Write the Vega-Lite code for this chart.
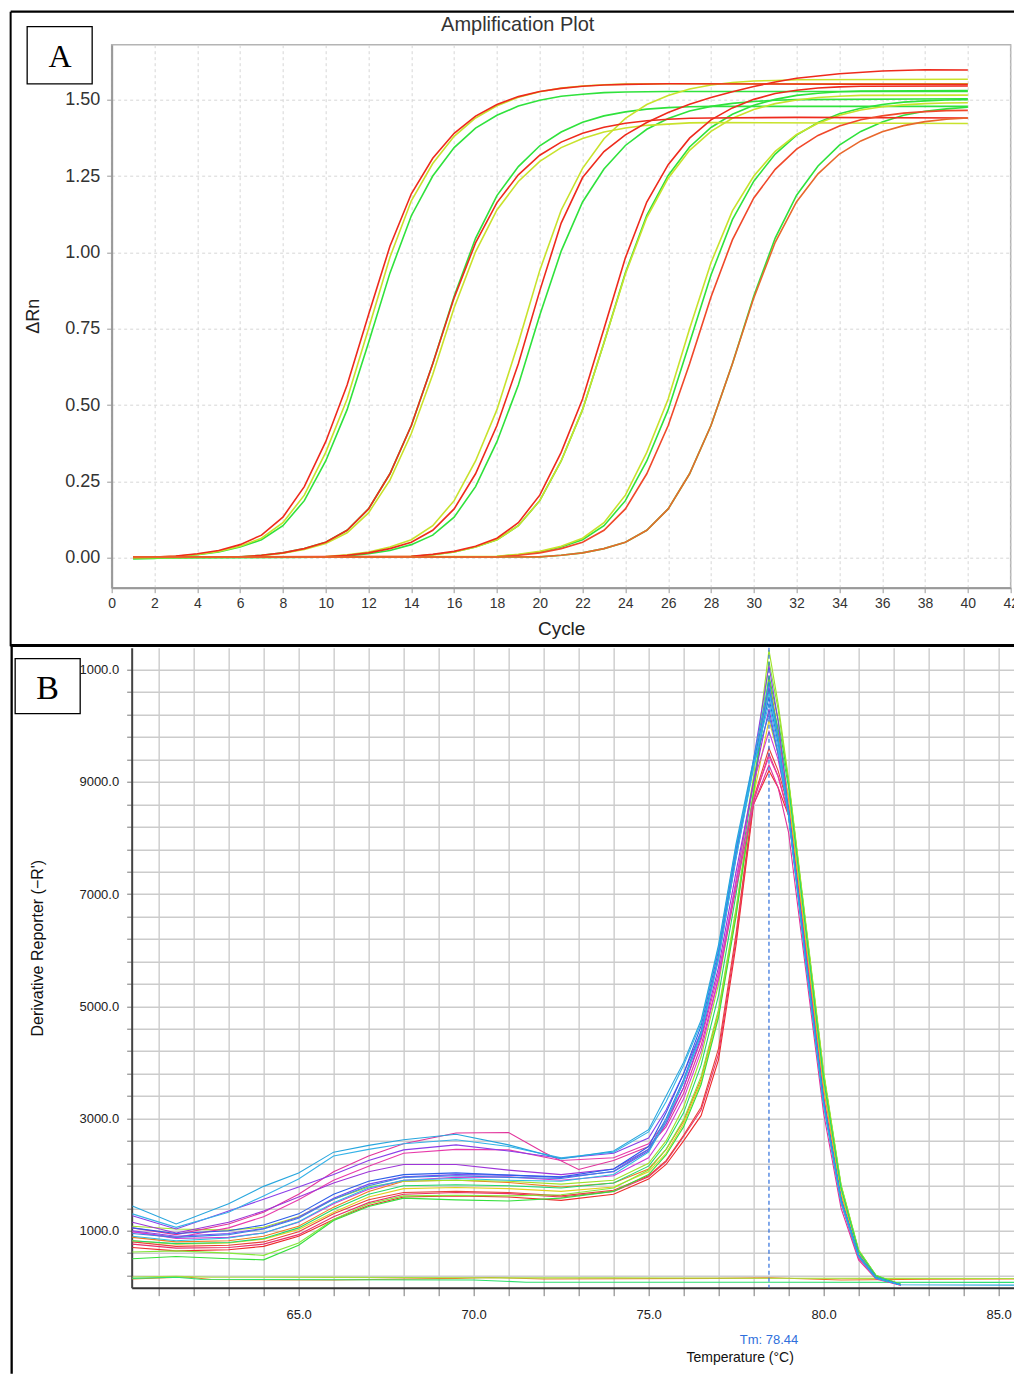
{
"$schema":"https://vega.github.io/schema/vega-lite/v6.json",
"autosize":{"type":"pad"},
"padding":{"left":7.67,"top":9.7,"right":0,"bottom":0},
"background":"white",
"bounds":"flush",
"spacing":60,
"resolve":{"scale":{"color":"independent","x":"independent","y":"independent"}},
"config":{"view":{"stroke":"#b4b4b4","strokeWidth":1.5},"font":"Liberation Sans"},
"datasets":{
"amp":[
{"k":"g1","x":1,"y":-0.004},{"k":"g1","x":2,"y":-0.002},{"k":"g1","x":3,"y":0.004},{"k":"g1","x":4,"y":0.01},{"k":"g1","x":5,"y":0.019},{"k":"g1","x":6,"y":0.035},{"k":"g1","x":7,"y":0.059},{"k":"g1","x":8,"y":0.105},{"k":"g1","x":9,"y":0.187},{"k":"g1","x":10,"y":0.317},{"k":"g1","x":11,"y":0.485},{"k":"g1","x":12,"y":0.704},{"k":"g1","x":13,"y":0.932},{"k":"g1","x":14,"y":1.12},{"k":"g1","x":15,"y":1.25},{"k":"g1","x":16,"y":1.343},{"k":"g1","x":17,"y":1.407},{"k":"g1","x":18,"y":1.449},{"k":"g1","x":19,"y":1.479},{"k":"g1","x":20,"y":1.498},{"k":"g1","x":21,"y":1.511},{"k":"g1","x":22,"y":1.518},{"k":"g1","x":23,"y":1.523},{"k":"g1","x":24,"y":1.525},{"k":"g1","x":26,"y":1.527},{"k":"g1","x":40,"y":1.527},
{"k":"g2","x":1,"y":0},{"k":"g2","x":6,"y":0.003},{"k":"g2","x":7,"y":0.008},{"k":"g2","x":8,"y":0.016},{"k":"g2","x":9,"y":0.03},{"k":"g2","x":10,"y":0.051},{"k":"g2","x":11,"y":0.09},{"k":"g2","x":12,"y":0.16},{"k":"g2","x":13,"y":0.275},{"k":"g2","x":14,"y":0.433},{"k":"g2","x":15,"y":0.635},{"k":"g2","x":16,"y":0.856},{"k":"g2","x":17,"y":1.046},{"k":"g2","x":18,"y":1.186},{"k":"g2","x":19,"y":1.281},{"k":"g2","x":20,"y":1.349},{"k":"g2","x":21,"y":1.394},{"k":"g2","x":22,"y":1.426},{"k":"g2","x":23,"y":1.447},{"k":"g2","x":24,"y":1.46},{"k":"g2","x":25,"y":1.469},{"k":"g2","x":26,"y":1.474},{"k":"g2","x":27,"y":1.477},{"k":"g2","x":28,"y":1.478},{"k":"g2","x":40,"y":1.478},
{"k":"g3","x":1,"y":0},{"k":"g3","x":10,"y":0.002},{"k":"g3","x":11,"y":0.006},{"k":"g3","x":12,"y":0.013},{"k":"g3","x":13,"y":0.024},{"k":"g3","x":14,"y":0.043},{"k":"g3","x":15,"y":0.074},{"k":"g3","x":16,"y":0.133},{"k":"g3","x":17,"y":0.233},{"k":"g3","x":18,"y":0.38},{"k":"g3","x":19,"y":0.566},{"k":"g3","x":20,"y":0.794},{"k":"g3","x":21,"y":1.004},{"k":"g3","x":22,"y":1.165},{"k":"g3","x":23,"y":1.273},{"k":"g3","x":24,"y":1.35},{"k":"g3","x":25,"y":1.403},{"k":"g3","x":26,"y":1.438},{"k":"g3","x":27,"y":1.463},{"k":"g3","x":28,"y":1.478},{"k":"g3","x":29,"y":1.488},{"k":"g3","x":30,"y":1.494},{"k":"g3","x":31,"y":1.498},{"k":"g3","x":32,"y":1.5},{"k":"g3","x":40,"y":1.503},
{"k":"g4","x":1,"y":0.001},{"k":"g4","x":14,"y":0.004},{"k":"g4","x":15,"y":0.01},{"k":"g4","x":16,"y":0.019},{"k":"g4","x":17,"y":0.035},{"k":"g4","x":18,"y":0.059},{"k":"g4","x":19,"y":0.105},{"k":"g4","x":20,"y":0.187},{"k":"g4","x":21,"y":0.317},{"k":"g4","x":22,"y":0.485},{"k":"g4","x":23,"y":0.704},{"k":"g4","x":24,"y":0.933},{"k":"g4","x":25,"y":1.121},{"k":"g4","x":26,"y":1.252},{"k":"g4","x":27,"y":1.345},{"k":"g4","x":28,"y":1.409},{"k":"g4","x":29,"y":1.452},{"k":"g4","x":30,"y":1.482},{"k":"g4","x":31,"y":1.501},{"k":"g4","x":32,"y":1.514},{"k":"g4","x":33,"y":1.521},{"k":"g4","x":34,"y":1.526},{"k":"g4","x":35,"y":1.528},{"k":"g4","x":40,"y":1.53},
{"k":"g5","x":1,"y":0},{"k":"g5","x":18,"y":0.004},{"k":"g5","x":19,"y":0.01},{"k":"g5","x":20,"y":0.019},{"k":"g5","x":21,"y":0.035},{"k":"g5","x":22,"y":0.059},{"k":"g5","x":23,"y":0.105},{"k":"g5","x":24,"y":0.187},{"k":"g5","x":25,"y":0.317},{"k":"g5","x":26,"y":0.485},{"k":"g5","x":27,"y":0.704},{"k":"g5","x":28,"y":0.926},{"k":"g5","x":29,"y":1.107},{"k":"g5","x":30,"y":1.233},{"k":"g5","x":31,"y":1.322},{"k":"g5","x":32,"y":1.384},{"k":"g5","x":33,"y":1.425},{"k":"g5","x":34,"y":1.454},{"k":"g5","x":35,"y":1.472},{"k":"g5","x":36,"y":1.484},{"k":"g5","x":37,"y":1.492},{"k":"g5","x":38,"y":1.496},{"k":"g5","x":39,"y":1.499},{"k":"g5","x":40,"y":1.5},
{"k":"g6","x":1,"y":0.001},{"k":"g6","x":20,"y":0.003},{"k":"g6","x":21,"y":0.008},{"k":"g6","x":22,"y":0.016},{"k":"g6","x":23,"y":0.03},{"k":"g6","x":24,"y":0.051},{"k":"g6","x":25,"y":0.09},{"k":"g6","x":26,"y":0.16},{"k":"g6","x":27,"y":0.275},{"k":"g6","x":28,"y":0.433},{"k":"g6","x":29,"y":0.635},{"k":"g6","x":30,"y":0.857},{"k":"g6","x":31,"y":1.047},{"k":"g6","x":32,"y":1.187},{"k":"g6","x":33,"y":1.283},{"k":"g6","x":34,"y":1.351},{"k":"g6","x":35,"y":1.396},{"k":"g6","x":36,"y":1.427},{"k":"g6","x":37,"y":1.449},{"k":"g6","x":38,"y":1.462},{"k":"g6","x":39,"y":1.47},{"k":"g6","x":40,"y":1.475},
{"k":"y1","x":1,"y":0.001},{"k":"y1","x":2,"y":0.002},{"k":"y1","x":3,"y":0.005},{"k":"y1","x":4,"y":0.011},{"k":"y1","x":5,"y":0.021},{"k":"y1","x":6,"y":0.038},{"k":"y1","x":7,"y":0.064},{"k":"y1","x":8,"y":0.115},{"k":"y1","x":9,"y":0.205},{"k":"y1","x":10,"y":0.345},{"k":"y1","x":11,"y":0.52},{"k":"y1","x":12,"y":0.75},{"k":"y1","x":13,"y":0.984},{"k":"y1","x":14,"y":1.169},{"k":"y1","x":15,"y":1.291},{"k":"y1","x":16,"y":1.38},{"k":"y1","x":17,"y":1.44},{"k":"y1","x":18,"y":1.48},{"k":"y1","x":19,"y":1.508},{"k":"y1","x":20,"y":1.526},{"k":"y1","x":21,"y":1.538},{"k":"y1","x":22,"y":1.545},{"k":"y1","x":23,"y":1.549},{"k":"y1","x":24,"y":1.551},{"k":"y1","x":26,"y":1.552},{"k":"y1","x":40,"y":1.552},
{"k":"y2","x":1,"y":0.001},{"k":"y2","x":6,"y":0.002},{"k":"y2","x":7,"y":0.007},{"k":"y2","x":8,"y":0.015},{"k":"y2","x":9,"y":0.027},{"k":"y2","x":10,"y":0.047},{"k":"y2","x":11,"y":0.082},{"k":"y2","x":12,"y":0.147},{"k":"y2","x":13,"y":0.254},{"k":"y2","x":14,"y":0.407},{"k":"y2","x":15,"y":0.6},{"k":"y2","x":16,"y":0.819},{"k":"y2","x":17,"y":1.002},{"k":"y2","x":18,"y":1.139},{"k":"y2","x":19,"y":1.232},{"k":"y2","x":20,"y":1.298},{"k":"y2","x":21,"y":1.343},{"k":"y2","x":22,"y":1.373},{"k":"y2","x":23,"y":1.394},{"k":"y2","x":24,"y":1.407},{"k":"y2","x":25,"y":1.416},{"k":"y2","x":26,"y":1.42},{"k":"y2","x":27,"y":1.424},{"k":"y2","x":28,"y":1.425},{"k":"y2","x":40,"y":1.422},
{"k":"y3","x":1,"y":0.002},{"k":"y3","x":10,"y":0.004},{"k":"y3","x":11,"y":0.01},{"k":"y3","x":12,"y":0.019},{"k":"y3","x":13,"y":0.035},{"k":"y3","x":14,"y":0.059},{"k":"y3","x":15,"y":0.105},{"k":"y3","x":16,"y":0.187},{"k":"y3","x":17,"y":0.317},{"k":"y3","x":18,"y":0.485},{"k":"y3","x":19,"y":0.704},{"k":"y3","x":20,"y":0.941},{"k":"y3","x":21,"y":1.138},{"k":"y3","x":22,"y":1.275},{"k":"y3","x":23,"y":1.372},{"k":"y3","x":24,"y":1.439},{"k":"y3","x":25,"y":1.484},{"k":"y3","x":26,"y":1.514},{"k":"y3","x":27,"y":1.535},{"k":"y3","x":28,"y":1.548},{"k":"y3","x":29,"y":1.556},{"k":"y3","x":30,"y":1.561},{"k":"y3","x":31,"y":1.563},{"k":"y3","x":32,"y":1.565},{"k":"y3","x":40,"y":1.567},
{"k":"y4","x":1,"y":0.001},{"k":"y4","x":14,"y":0.004},{"k":"y4","x":15,"y":0.01},{"k":"y4","x":16,"y":0.019},{"k":"y4","x":17,"y":0.035},{"k":"y4","x":18,"y":0.059},{"k":"y4","x":19,"y":0.105},{"k":"y4","x":20,"y":0.187},{"k":"y4","x":21,"y":0.317},{"k":"y4","x":22,"y":0.485},{"k":"y4","x":23,"y":0.704},{"k":"y4","x":24,"y":0.929},{"k":"y4","x":25,"y":1.114},{"k":"y4","x":26,"y":1.243},{"k":"y4","x":27,"y":1.334},{"k":"y4","x":28,"y":1.396},{"k":"y4","x":29,"y":1.439},{"k":"y4","x":30,"y":1.468},{"k":"y4","x":31,"y":1.487},{"k":"y4","x":32,"y":1.499},{"k":"y4","x":33,"y":1.507},{"k":"y4","x":34,"y":1.511},{"k":"y4","x":35,"y":1.514},{"k":"y4","x":40,"y":1.515},
{"k":"y5","x":1,"y":0.001},{"k":"y5","x":18,"y":0.005},{"k":"y5","x":19,"y":0.011},{"k":"y5","x":20,"y":0.021},{"k":"y5","x":21,"y":0.038},{"k":"y5","x":22,"y":0.064},{"k":"y5","x":23,"y":0.115},{"k":"y5","x":24,"y":0.205},{"k":"y5","x":25,"y":0.345},{"k":"y5","x":26,"y":0.52},{"k":"y5","x":27,"y":0.75},{"k":"y5","x":28,"y":0.966},{"k":"y5","x":29,"y":1.136},{"k":"y5","x":30,"y":1.25},{"k":"y5","x":31,"y":1.331},{"k":"y5","x":32,"y":1.386},{"k":"y5","x":33,"y":1.423},{"k":"y5","x":34,"y":1.449},{"k":"y5","x":35,"y":1.466},{"k":"y5","x":36,"y":1.477},{"k":"y5","x":37,"y":1.483},{"k":"y5","x":38,"y":1.487},{"k":"y5","x":39,"y":1.489},{"k":"y5","x":40,"y":1.49},
{"k":"r1","x":1,"y":0.001},{"k":"r1","x":2,"y":0.002},{"k":"r1","x":3,"y":0.006},{"k":"r1","x":4,"y":0.013},{"k":"r1","x":5,"y":0.024},{"k":"r1","x":6,"y":0.043},{"k":"r1","x":7,"y":0.074},{"k":"r1","x":8,"y":0.133},{"k":"r1","x":9,"y":0.233},{"k":"r1","x":10,"y":0.38},{"k":"r1","x":11,"y":0.566},{"k":"r1","x":12,"y":0.796},{"k":"r1","x":13,"y":1.02},{"k":"r1","x":14,"y":1.192},{"k":"r1","x":15,"y":1.308},{"k":"r1","x":16,"y":1.39},{"k":"r1","x":17,"y":1.446},{"k":"r1","x":18,"y":1.484},{"k":"r1","x":19,"y":1.51},{"k":"r1","x":20,"y":1.527},{"k":"r1","x":21,"y":1.537},{"k":"r1","x":22,"y":1.544},{"k":"r1","x":23,"y":1.548},{"k":"r1","x":24,"y":1.55},{"k":"r1","x":26,"y":1.552},{"k":"r1","x":40,"y":1.55},
{"k":"r2","x":1,"y":0.002},{"k":"r2","x":6,"y":0.003},{"k":"r2","x":7,"y":0.008},{"k":"r2","x":8,"y":0.016},{"k":"r2","x":9,"y":0.03},{"k":"r2","x":10,"y":0.051},{"k":"r2","x":11,"y":0.09},{"k":"r2","x":12,"y":0.16},{"k":"r2","x":13,"y":0.275},{"k":"r2","x":14,"y":0.433},{"k":"r2","x":15,"y":0.635},{"k":"r2","x":16,"y":0.851},{"k":"r2","x":17,"y":1.031},{"k":"r2","x":18,"y":1.163},{"k":"r2","x":19,"y":1.254},{"k":"r2","x":20,"y":1.318},{"k":"r2","x":21,"y":1.361},{"k":"r2","x":22,"y":1.39},{"k":"r2","x":23,"y":1.41},{"k":"r2","x":24,"y":1.423},{"k":"r2","x":25,"y":1.431},{"k":"r2","x":26,"y":1.436},{"k":"r2","x":27,"y":1.439},{"k":"r2","x":28,"y":1.44},{"k":"r2","x":32,"y":1.442},{"k":"r2","x":40,"y":1.44},
{"k":"r3","x":1,"y":0.003},{"k":"r3","x":10,"y":0.003},{"k":"r3","x":11,"y":0.008},{"k":"r3","x":12,"y":0.016},{"k":"r3","x":13,"y":0.03},{"k":"r3","x":14,"y":0.051},{"k":"r3","x":15,"y":0.09},{"k":"r3","x":16,"y":0.16},{"k":"r3","x":17,"y":0.275},{"k":"r3","x":18,"y":0.433},{"k":"r3","x":19,"y":0.635},{"k":"r3","x":20,"y":0.874},{"k":"r3","x":21,"y":1.096},{"k":"r3","x":22,"y":1.245},{"k":"r3","x":23,"y":1.33},{"k":"r3","x":24,"y":1.385},{"k":"r3","x":25,"y":1.425},{"k":"r3","x":26,"y":1.458},{"k":"r3","x":27,"y":1.485},{"k":"r3","x":28,"y":1.507},{"k":"r3","x":29,"y":1.526},{"k":"r3","x":30,"y":1.543},{"k":"r3","x":31,"y":1.558},{"k":"r3","x":32,"y":1.57},{"k":"r3","x":34,"y":1.585},{"k":"r3","x":36,"y":1.594},{"k":"r3","x":38,"y":1.598},{"k":"r3","x":40,"y":1.597},
{"k":"r4","x":1,"y":0.002},{"k":"r4","x":14,"y":0.005},{"k":"r4","x":15,"y":0.011},{"k":"r4","x":16,"y":0.021},{"k":"r4","x":17,"y":0.038},{"k":"r4","x":18,"y":0.064},{"k":"r4","x":19,"y":0.115},{"k":"r4","x":20,"y":0.205},{"k":"r4","x":21,"y":0.345},{"k":"r4","x":22,"y":0.52},{"k":"r4","x":23,"y":0.75},{"k":"r4","x":24,"y":0.982},{"k":"r4","x":25,"y":1.165},{"k":"r4","x":26,"y":1.287},{"k":"r4","x":27,"y":1.374},{"k":"r4","x":28,"y":1.434},{"k":"r4","x":29,"y":1.473},{"k":"r4","x":30,"y":1.501},{"k":"r4","x":31,"y":1.52},{"k":"r4","x":32,"y":1.531},{"k":"r4","x":33,"y":1.538},{"k":"r4","x":34,"y":1.542},{"k":"r4","x":35,"y":1.544},{"k":"r4","x":40,"y":1.545},
{"k":"r5","x":1,"y":0.002},{"k":"r5","x":18,"y":0.003},{"k":"r5","x":19,"y":0.008},{"k":"r5","x":20,"y":0.016},{"k":"r5","x":21,"y":0.03},{"k":"r5","x":22,"y":0.051},{"k":"r5","x":23,"y":0.09},{"k":"r5","x":24,"y":0.16},{"k":"r5","x":25,"y":0.275},{"k":"r5","x":26,"y":0.433},{"k":"r5","x":27,"y":0.635},{"k":"r5","x":28,"y":0.854},{"k":"r5","x":29,"y":1.041},{"k":"r5","x":30,"y":1.178},{"k":"r5","x":31,"y":1.272},{"k":"r5","x":32,"y":1.338},{"k":"r5","x":33,"y":1.383},{"k":"r5","x":34,"y":1.414},{"k":"r5","x":35,"y":1.434},{"k":"r5","x":36,"y":1.447},{"k":"r5","x":37,"y":1.456},{"k":"r5","x":38,"y":1.461},{"k":"r5","x":39,"y":1.464},{"k":"r5","x":40,"y":1.465},
{"k":"o6","x":1,"y":0.002},{"k":"o6","x":20,"y":0.003},{"k":"o6","x":21,"y":0.008},{"k":"o6","x":22,"y":0.016},{"k":"o6","x":23,"y":0.03},{"k":"o6","x":24,"y":0.051},{"k":"o6","x":25,"y":0.09},{"k":"o6","x":26,"y":0.16},{"k":"o6","x":27,"y":0.275},{"k":"o6","x":28,"y":0.433},{"k":"o6","x":29,"y":0.635},{"k":"o6","x":30,"y":0.851},{"k":"o6","x":31,"y":1.033},{"k":"o6","x":32,"y":1.166},{"k":"o6","x":33,"y":1.257},{"k":"o6","x":34,"y":1.322},{"k":"o6","x":35,"y":1.365},{"k":"o6","x":36,"y":1.395},{"k":"o6","x":37,"y":1.415},{"k":"o6","x":38,"y":1.428},{"k":"o6","x":39,"y":1.436},{"k":"o6","x":40,"y":1.44}
],
"melt":[
{"k":"bl3","x":60.25,"y":140},{"k":"bl3","x":61.8,"y":175},{"k":"bl3","x":62.5,"y":130},{"k":"bl3","x":66,"y":120},{"k":"bl3","x":69.5,"y":150},{"k":"bl3","x":70.5,"y":165},{"k":"bl3","x":72,"y":140},{"k":"bl3","x":77,"y":150},{"k":"bl3","x":78.5,"y":160},{"k":"bl3","x":80.5,"y":120},{"k":"bl3","x":83,"y":135},{"k":"bl3","x":85.46,"y":140},
{"k":"bl1","x":60.25,"y":175},{"k":"bl1","x":61.5,"y":185},{"k":"bl1","x":62.5,"y":170},{"k":"bl1","x":66,"y":168},{"k":"bl1","x":70,"y":160},{"k":"bl1","x":74,"y":158},{"k":"bl1","x":78,"y":152},{"k":"bl1","x":82,"y":150},{"k":"bl1","x":85.46,"y":148},
{"k":"bl2","x":60.25,"y":150},{"k":"bl2","x":61.5,"y":170},{"k":"bl2","x":62.2,"y":135},{"k":"bl2","x":66,"y":125},{"k":"bl2","x":70,"y":122},{"k":"bl2","x":71.5,"y":82},{"k":"bl2","x":78,"y":80},{"k":"bl2","x":85.46,"y":78},
{"k":"L3","x":60.25,"y":700},{"k":"L3","x":61.5,"y":640},{"k":"L3","x":63,"y":660},{"k":"L3","x":64,"y":720},{"k":"L3","x":65,"y":900},{"k":"L3","x":66,"y":1200},{"k":"L3","x":67,"y":1450},{"k":"L3","x":68,"y":1600},{"k":"L3","x":69.5,"y":1620},{"k":"L3","x":71,"y":1600},{"k":"L3","x":72.5,"y":1540},{"k":"L3","x":74,"y":1650},{"k":"L3","x":75,"y":1920},{"k":"L3","x":75.5,"y":2180},{"k":"L3","x":76,"y":2600},{"k":"L3","x":76.5,"y":3050},{"k":"L3","x":77,"y":4050},{"k":"L3","x":77.5,"y":6100},{"k":"L3","x":78,"y":8600},{"k":"L3","x":78.44,"y":9200},{"k":"L3","x":78.7,"y":8900},{"k":"L3","x":79,"y":8400},{"k":"L3","x":79.5,"y":5900},{"k":"L3","x":80,"y":3300},{"k":"L3","x":80.5,"y":1500},{"k":"L3","x":81,"y":520},{"k":"L3","x":81.5,"y":150},{"k":"L3","x":82.2,"y":35},
{"k":"L13","x":60.25,"y":760},{"k":"L13","x":61.5,"y":690},{"k":"L13","x":63,"y":700},{"k":"L13","x":64,"y":760},{"k":"L13","x":65,"y":930},{"k":"L13","x":66,"y":1250},{"k":"L13","x":67,"y":1500},{"k":"L13","x":68,"y":1650},{"k":"L13","x":69.5,"y":1680},{"k":"L13","x":71,"y":1660},{"k":"L13","x":72.5,"y":1600},{"k":"L13","x":74,"y":1700},{"k":"L13","x":75,"y":1960},{"k":"L13","x":75.5,"y":2230},{"k":"L13","x":76,"y":2680},{"k":"L13","x":76.5,"y":3150},{"k":"L13","x":77,"y":4150},{"k":"L13","x":77.5,"y":6200},{"k":"L13","x":78,"y":8650},{"k":"L13","x":78.44,"y":9500},{"k":"L13","x":78.7,"y":9100},{"k":"L13","x":79,"y":8450},{"k":"L13","x":79.5,"y":5950},{"k":"L13","x":80,"y":3350},{"k":"L13","x":80.5,"y":1530},{"k":"L13","x":81,"y":540},{"k":"L13","x":81.5,"y":155},{"k":"L13","x":82.2,"y":35},
{"k":"L4","x":60.25,"y":800},{"k":"L4","x":61.5,"y":720},{"k":"L4","x":63,"y":740},{"k":"L4","x":64,"y":800},{"k":"L4","x":65,"y":980},{"k":"L4","x":66,"y":1300},{"k":"L4","x":67,"y":1550},{"k":"L4","x":68,"y":1680},{"k":"L4","x":69.5,"y":1700},{"k":"L4","x":71,"y":1680},{"k":"L4","x":72.5,"y":1620},{"k":"L4","x":74,"y":1720},{"k":"L4","x":75,"y":1980},{"k":"L4","x":75.5,"y":2250},{"k":"L4","x":76,"y":2700},{"k":"L4","x":76.5,"y":3200},{"k":"L4","x":77,"y":4250},{"k":"L4","x":77.5,"y":6300},{"k":"L4","x":78,"y":8700},{"k":"L4","x":78.44,"y":9600},{"k":"L4","x":78.7,"y":9200},{"k":"L4","x":79,"y":8550},{"k":"L4","x":79.5,"y":6000},{"k":"L4","x":80,"y":3400},{"k":"L4","x":80.5,"y":1580},{"k":"L4","x":81,"y":560},{"k":"L4","x":81.5,"y":160},{"k":"L4","x":82.2,"y":35},
{"k":"L5","x":60.25,"y":880},{"k":"L5","x":61.5,"y":800},{"k":"L5","x":63,"y":820},{"k":"L5","x":64,"y":900},{"k":"L5","x":65,"y":1080},{"k":"L5","x":66,"y":1420},{"k":"L5","x":67,"y":1700},{"k":"L5","x":68,"y":1880},{"k":"L5","x":69.5,"y":1900},{"k":"L5","x":71,"y":1860},{"k":"L5","x":72.5,"y":1780},{"k":"L5","x":74,"y":1850},{"k":"L5","x":75,"y":2100},{"k":"L5","x":75.5,"y":2450},{"k":"L5","x":76,"y":2950},{"k":"L5","x":76.5,"y":3700},{"k":"L5","x":77,"y":4900},{"k":"L5","x":77.5,"y":6700},{"k":"L5","x":78,"y":8800},{"k":"L5","x":78.44,"y":10850},{"k":"L5","x":78.7,"y":9900},{"k":"L5","x":79,"y":8700},{"k":"L5","x":79.5,"y":6100},{"k":"L5","x":80,"y":3550},{"k":"L5","x":80.5,"y":1650},{"k":"L5","x":81,"y":600},{"k":"L5","x":81.5,"y":180},{"k":"L5","x":82.2,"y":40},
{"k":"L6","x":60.25,"y":820},{"k":"L6","x":61.5,"y":760},{"k":"L6","x":63,"y":780},{"k":"L6","x":64,"y":850},{"k":"L6","x":65,"y":1020},{"k":"L6","x":66,"y":1330},{"k":"L6","x":67,"y":1600},{"k":"L6","x":68,"y":1750},{"k":"L6","x":69.5,"y":1770},{"k":"L6","x":71,"y":1750},{"k":"L6","x":72.5,"y":1700},{"k":"L6","x":74,"y":1780},{"k":"L6","x":75,"y":2050},{"k":"L6","x":75.5,"y":2380},{"k":"L6","x":76,"y":2900},{"k":"L6","x":76.5,"y":3650},{"k":"L6","x":77,"y":4850},{"k":"L6","x":77.5,"y":6650},{"k":"L6","x":78,"y":8750},{"k":"L6","x":78.44,"y":10100},{"k":"L6","x":78.7,"y":9500},{"k":"L6","x":79,"y":8750},{"k":"L6","x":79.5,"y":6150},{"k":"L6","x":80,"y":3600},{"k":"L6","x":80.5,"y":1680},{"k":"L6","x":81,"y":610},{"k":"L6","x":81.5,"y":185},{"k":"L6","x":82.2,"y":40},
{"k":"L9","x":60.25,"y":620},{"k":"L9","x":61.5,"y":640},{"k":"L9","x":63,"y":600},{"k":"L9","x":64,"y":560},{"k":"L9","x":65,"y":780},{"k":"L9","x":66,"y":1200},{"k":"L9","x":67,"y":1480},{"k":"L9","x":68,"y":1620},{"k":"L9","x":69.5,"y":1630},{"k":"L9","x":71,"y":1620},{"k":"L9","x":72.5,"y":1640},{"k":"L9","x":74,"y":1760},{"k":"L9","x":75,"y":2080},{"k":"L9","x":75.5,"y":2450},{"k":"L9","x":76,"y":2980},{"k":"L9","x":76.5,"y":3750},{"k":"L9","x":77,"y":4950},{"k":"L9","x":77.5,"y":6750},{"k":"L9","x":78,"y":8850},{"k":"L9","x":78.44,"y":11150},{"k":"L9","x":78.7,"y":10300},{"k":"L9","x":79,"y":9000},{"k":"L9","x":79.5,"y":6400},{"k":"L9","x":80,"y":3800},{"k":"L9","x":80.5,"y":1800},{"k":"L9","x":81,"y":650},{"k":"L9","x":81.5,"y":200},{"k":"L9","x":82.2,"y":45},
{"k":"L8","x":60.25,"y":500},{"k":"L8","x":61.5,"y":540},{"k":"L8","x":63,"y":500},{"k":"L8","x":64,"y":480},{"k":"L8","x":65,"y":740},{"k":"L8","x":66,"y":1180},{"k":"L8","x":67,"y":1430},{"k":"L8","x":68,"y":1580},{"k":"L8","x":69.5,"y":1550},{"k":"L8","x":71,"y":1530},{"k":"L8","x":72.5,"y":1580},{"k":"L8","x":74,"y":1700},{"k":"L8","x":75,"y":2000},{"k":"L8","x":75.5,"y":2350},{"k":"L8","x":76,"y":2850},{"k":"L8","x":76.5,"y":3600},{"k":"L8","x":77,"y":4800},{"k":"L8","x":77.5,"y":6600},{"k":"L8","x":78,"y":8800},{"k":"L8","x":78.44,"y":10900},{"k":"L8","x":78.7,"y":10100},{"k":"L8","x":79,"y":9000},{"k":"L8","x":79.5,"y":6400},{"k":"L8","x":80,"y":3800},{"k":"L8","x":80.5,"y":1800},{"k":"L8","x":81,"y":650},{"k":"L8","x":81.5,"y":200},{"k":"L8","x":82.2,"y":45},
{"k":"L7","x":60.25,"y":1080},{"k":"L7","x":61.5,"y":1030},{"k":"L7","x":63,"y":1010},{"k":"L7","x":64,"y":1060},{"k":"L7","x":65,"y":1250},{"k":"L7","x":66,"y":1560},{"k":"L7","x":67,"y":1780},{"k":"L7","x":68,"y":1880},{"k":"L7","x":69.5,"y":1900},{"k":"L7","x":71,"y":1880},{"k":"L7","x":72.5,"y":1830},{"k":"L7","x":74,"y":1900},{"k":"L7","x":75,"y":2200},{"k":"L7","x":75.5,"y":2600},{"k":"L7","x":76,"y":3200},{"k":"L7","x":76.5,"y":4100},{"k":"L7","x":77,"y":5400},{"k":"L7","x":77.5,"y":7200},{"k":"L7","x":78,"y":9100},{"k":"L7","x":78.44,"y":11350},{"k":"L7","x":78.7,"y":10400},{"k":"L7","x":79,"y":9050},{"k":"L7","x":79.5,"y":6450},{"k":"L7","x":80,"y":3850},{"k":"L7","x":80.5,"y":1820},{"k":"L7","x":81,"y":660},{"k":"L7","x":81.5,"y":200},{"k":"L7","x":82.2,"y":45},
{"k":"L10","x":60.25,"y":820},{"k":"L10","x":61.5,"y":770},{"k":"L10","x":63,"y":790},{"k":"L10","x":64,"y":860},{"k":"L10","x":65,"y":1050},{"k":"L10","x":66,"y":1380},{"k":"L10","x":67,"y":1650},{"k":"L10","x":68,"y":1800},{"k":"L10","x":69.5,"y":1820},{"k":"L10","x":71,"y":1800},{"k":"L10","x":72.5,"y":1760},{"k":"L10","x":74,"y":1850},{"k":"L10","x":75,"y":2150},{"k":"L10","x":75.5,"y":2550},{"k":"L10","x":76,"y":3100},{"k":"L10","x":76.5,"y":3950},{"k":"L10","x":77,"y":5200},{"k":"L10","x":77.5,"y":7000},{"k":"L10","x":78,"y":9000},{"k":"L10","x":78.44,"y":10650},{"k":"L10","x":78.7,"y":9950},{"k":"L10","x":79,"y":8900},{"k":"L10","x":79.5,"y":6300},{"k":"L10","x":80,"y":3700},{"k":"L10","x":80.5,"y":1750},{"k":"L10","x":81,"y":630},{"k":"L10","x":81.5,"y":190},{"k":"L10","x":82.2,"y":40},
{"k":"c3","x":60.25,"y":1050},{"k":"c3","x":61.5,"y":930},{"k":"c3","x":63,"y":1120},{"k":"c3","x":64,"y":1330},{"k":"c3","x":65,"y":1650},{"k":"c3","x":66,"y":2050},{"k":"c3","x":67,"y":2330},{"k":"c3","x":68,"y":2550},{"k":"c3","x":69.5,"y":2740},{"k":"c3","x":71,"y":2750},{"k":"c3","x":72,"y":2400},{"k":"c3","x":73,"y":2090},{"k":"c3","x":74,"y":2250},{"k":"c3","x":75,"y":2500},{"k":"c3","x":75.5,"y":2850},{"k":"c3","x":76,"y":3450},{"k":"c3","x":76.5,"y":4300},{"k":"c3","x":77,"y":5500},{"k":"c3","x":77.5,"y":7100},{"k":"c3","x":78,"y":8600},{"k":"c3","x":78.44,"y":9300},{"k":"c3","x":78.7,"y":8900},{"k":"c3","x":79,"y":8100},{"k":"c3","x":79.5,"y":5600},{"k":"c3","x":80,"y":3100},{"k":"c3","x":80.5,"y":1400},{"k":"c3","x":81,"y":480},{"k":"c3","x":81.5,"y":140},{"k":"c3","x":82.2,"y":30},
{"k":"c5","x":60.25,"y":980},{"k":"c5","x":61.5,"y":880},{"k":"c5","x":63,"y":1050},{"k":"c5","x":64,"y":1250},{"k":"c5","x":65,"y":1550},{"k":"c5","x":66,"y":1900},{"k":"c5","x":67,"y":2150},{"k":"c5","x":68,"y":2380},{"k":"c5","x":69.5,"y":2450},{"k":"c5","x":71,"y":2440},{"k":"c5","x":72.5,"y":2250},{"k":"c5","x":74,"y":2300},{"k":"c5","x":75,"y":2550},{"k":"c5","x":75.5,"y":2950},{"k":"c5","x":76,"y":3550},{"k":"c5","x":76.5,"y":4400},{"k":"c5","x":77,"y":5600},{"k":"c5","x":77.5,"y":7200},{"k":"c5","x":78,"y":8700},{"k":"c5","x":78.44,"y":9450},{"k":"c5","x":78.7,"y":9100},{"k":"c5","x":79,"y":8400},{"k":"c5","x":79.5,"y":5900},{"k":"c5","x":80,"y":3300},{"k":"c5","x":80.5,"y":1500},{"k":"c5","x":81,"y":520},{"k":"c5","x":81.5,"y":150},{"k":"c5","x":82.2,"y":30},
{"k":"L12","x":60.25,"y":980},{"k":"L12","x":61.5,"y":860},{"k":"L12","x":63,"y":880},{"k":"L12","x":64,"y":960},{"k":"L12","x":65,"y":1150},{"k":"L12","x":66,"y":1480},{"k":"L12","x":67,"y":1740},{"k":"L12","x":68,"y":1900},{"k":"L12","x":69.5,"y":1950},{"k":"L12","x":71,"y":1960},{"k":"L12","x":72.5,"y":1900},{"k":"L12","x":74,"y":1980},{"k":"L12","x":75,"y":2300},{"k":"L12","x":75.5,"y":2750},{"k":"L12","x":76,"y":3350},{"k":"L12","x":76.5,"y":4200},{"k":"L12","x":77,"y":5500},{"k":"L12","x":77.5,"y":7250},{"k":"L12","x":78,"y":9000},{"k":"L12","x":78.44,"y":9900},{"k":"L12","x":78.7,"y":9400},{"k":"L12","x":79,"y":8500},{"k":"L12","x":79.5,"y":5900},{"k":"L12","x":80,"y":3350},{"k":"L12","x":80.5,"y":1560},{"k":"L12","x":81,"y":560},{"k":"L12","x":81.5,"y":160},{"k":"L12","x":82.2,"y":35},
{"k":"c6","x":60.25,"y":1150},{"k":"c6","x":61.5,"y":960},{"k":"c6","x":63,"y":1150},{"k":"c6","x":64,"y":1350},{"k":"c6","x":65,"y":1600},{"k":"c6","x":66,"y":1850},{"k":"c6","x":67,"y":2050},{"k":"c6","x":68,"y":2180},{"k":"c6","x":69.5,"y":2180},{"k":"c6","x":71,"y":2080},{"k":"c6","x":72.5,"y":2000},{"k":"c6","x":74,"y":2100},{"k":"c6","x":75,"y":2450},{"k":"c6","x":75.5,"y":2900},{"k":"c6","x":76,"y":3550},{"k":"c6","x":76.5,"y":4450},{"k":"c6","x":77,"y":5700},{"k":"c6","x":77.5,"y":7400},{"k":"c6","x":78,"y":9000},{"k":"c6","x":78.44,"y":10300},{"k":"c6","x":78.7,"y":9500},{"k":"c6","x":79,"y":8500},{"k":"c6","x":79.5,"y":5850},{"k":"c6","x":80,"y":3300},{"k":"c6","x":80.5,"y":1550},{"k":"c6","x":81,"y":560},{"k":"c6","x":81.5,"y":160},{"k":"c6","x":82.2,"y":35},
{"k":"c4","x":60.25,"y":1265},{"k":"c4","x":61.5,"y":1030},{"k":"c4","x":63,"y":1350},{"k":"c4","x":64,"y":1560},{"k":"c4","x":65,"y":1780},{"k":"c4","x":66,"y":2000},{"k":"c4","x":67,"y":2250},{"k":"c4","x":68,"y":2440},{"k":"c4","x":69.5,"y":2530},{"k":"c4","x":71,"y":2420},{"k":"c4","x":72.5,"y":2290},{"k":"c4","x":74,"y":2380},{"k":"c4","x":75,"y":2650},{"k":"c4","x":75.5,"y":3150},{"k":"c4","x":76,"y":3800},{"k":"c4","x":76.5,"y":4550},{"k":"c4","x":77,"y":5900},{"k":"c4","x":77.5,"y":7700},{"k":"c4","x":78,"y":9400},{"k":"c4","x":78.44,"y":11070},{"k":"c4","x":78.7,"y":10100},{"k":"c4","x":79,"y":8500},{"k":"c4","x":79.5,"y":5800},{"k":"c4","x":80,"y":3300},{"k":"c4","x":80.5,"y":1550},{"k":"c4","x":81,"y":560},{"k":"c4","x":81.5,"y":160},{"k":"c4","x":82.2,"y":35},
{"k":"L14","x":60.25,"y":1000},{"k":"L14","x":61.5,"y":900},{"k":"L14","x":63,"y":950},{"k":"L14","x":64,"y":1040},{"k":"L14","x":65,"y":1240},{"k":"L14","x":66,"y":1580},{"k":"L14","x":67,"y":1830},{"k":"L14","x":68,"y":1960},{"k":"L14","x":69.5,"y":2000},{"k":"L14","x":71,"y":1990},{"k":"L14","x":72.5,"y":1950},{"k":"L14","x":74,"y":2050},{"k":"L14","x":75,"y":2420},{"k":"L14","x":75.5,"y":2950},{"k":"L14","x":76,"y":3650},{"k":"L14","x":76.5,"y":4500},{"k":"L14","x":77,"y":5850},{"k":"L14","x":77.5,"y":7650},{"k":"L14","x":78,"y":9300},{"k":"L14","x":78.44,"y":10700},{"k":"L14","x":78.7,"y":9800},{"k":"L14","x":79,"y":8450},{"k":"L14","x":79.5,"y":5800},{"k":"L14","x":80,"y":3300},{"k":"L14","x":80.5,"y":1550},{"k":"L14","x":81,"y":560},{"k":"L14","x":81.5,"y":160},{"k":"L14","x":82.2,"y":35},
{"k":"L1","x":60.25,"y":1050},{"k":"L1","x":61.5,"y":950},{"k":"L1","x":63,"y":1000},{"k":"L1","x":64,"y":1100},{"k":"L1","x":65,"y":1300},{"k":"L1","x":66,"y":1650},{"k":"L1","x":67,"y":1880},{"k":"L1","x":68,"y":2000},{"k":"L1","x":69.5,"y":2030},{"k":"L1","x":71,"y":1990},{"k":"L1","x":72.5,"y":1960},{"k":"L1","x":74,"y":2100},{"k":"L1","x":75,"y":2500},{"k":"L1","x":75.5,"y":3100},{"k":"L1","x":76,"y":3800},{"k":"L1","x":76.5,"y":4650},{"k":"L1","x":77,"y":6000},{"k":"L1","x":77.5,"y":7800},{"k":"L1","x":78,"y":9350},{"k":"L1","x":78.44,"y":10500},{"k":"L1","x":78.7,"y":9700},{"k":"L1","x":79,"y":8450},{"k":"L1","x":79.5,"y":5800},{"k":"L1","x":80,"y":3300},{"k":"L1","x":80.5,"y":1550},{"k":"L1","x":81,"y":560},{"k":"L1","x":81.5,"y":160},{"k":"L1","x":82.2,"y":35},
{"k":"L2","x":60.25,"y":950},{"k":"L2","x":61.5,"y":880},{"k":"L2","x":63,"y":930},{"k":"L2","x":64,"y":1030},{"k":"L2","x":65,"y":1220},{"k":"L2","x":66,"y":1560},{"k":"L2","x":67,"y":1800},{"k":"L2","x":68,"y":1950},{"k":"L2","x":69.5,"y":1980},{"k":"L2","x":71,"y":1950},{"k":"L2","x":72.5,"y":1930},{"k":"L2","x":74,"y":2060},{"k":"L2","x":75,"y":2450},{"k":"L2","x":75.5,"y":3000},{"k":"L2","x":76,"y":3700},{"k":"L2","x":76.5,"y":4550},{"k":"L2","x":77,"y":5900},{"k":"L2","x":77.5,"y":7700},{"k":"L2","x":78,"y":9300},{"k":"L2","x":78.44,"y":10200},{"k":"L2","x":78.7,"y":9500},{"k":"L2","x":79,"y":8400},{"k":"L2","x":79.5,"y":5780},{"k":"L2","x":80,"y":3280},{"k":"L2","x":80.5,"y":1540},{"k":"L2","x":81,"y":550},{"k":"L2","x":81.5,"y":155},{"k":"L2","x":82.2,"y":35},
{"k":"L11","x":60.25,"y":900},{"k":"L11","x":61.5,"y":820},{"k":"L11","x":63,"y":870},{"k":"L11","x":64,"y":960},{"k":"L11","x":65,"y":1160},{"k":"L11","x":66,"y":1500},{"k":"L11","x":67,"y":1760},{"k":"L11","x":68,"y":1900},{"k":"L11","x":69.5,"y":1930},{"k":"L11","x":71,"y":1900},{"k":"L11","x":72.5,"y":1880},{"k":"L11","x":74,"y":2000},{"k":"L11","x":75,"y":2400},{"k":"L11","x":75.5,"y":2950},{"k":"L11","x":76,"y":3650},{"k":"L11","x":76.5,"y":4500},{"k":"L11","x":77,"y":5850},{"k":"L11","x":77.5,"y":7650},{"k":"L11","x":78,"y":9250},{"k":"L11","x":78.44,"y":10600},{"k":"L11","x":78.7,"y":9750},{"k":"L11","x":79,"y":8400},{"k":"L11","x":79.5,"y":5750},{"k":"L11","x":80,"y":3250},{"k":"L11","x":80.5,"y":1520},{"k":"L11","x":81,"y":545},{"k":"L11","x":81.5,"y":155},{"k":"L11","x":82.2,"y":35},
{"k":"c2","x":60.25,"y":1300},{"k":"c2","x":61.5,"y":1060},{"k":"c2","x":63,"y":1330},{"k":"c2","x":64,"y":1620},{"k":"c2","x":65,"y":1920},{"k":"c2","x":66,"y":2330},{"k":"c2","x":67,"y":2450},{"k":"c2","x":68,"y":2550},{"k":"c2","x":69.5,"y":2620},{"k":"c2","x":71,"y":2500},{"k":"c2","x":72.5,"y":2300},{"k":"c2","x":74,"y":2400},{"k":"c2","x":75,"y":2760},{"k":"c2","x":75.5,"y":3300},{"k":"c2","x":76,"y":3950},{"k":"c2","x":76.5,"y":4700},{"k":"c2","x":77,"y":6050},{"k":"c2","x":77.5,"y":7850},{"k":"c2","x":78,"y":9300},{"k":"c2","x":78.44,"y":10400},{"k":"c2","x":78.7,"y":9600},{"k":"c2","x":79,"y":8400},{"k":"c2","x":79.5,"y":5750},{"k":"c2","x":80,"y":3250},{"k":"c2","x":80.5,"y":1500},{"k":"c2","x":81,"y":540},{"k":"c2","x":81.5,"y":150},{"k":"c2","x":82.2,"y":35},
{"k":"c1","x":60.25,"y":1440},{"k":"c1","x":61.5,"y":1120},{"k":"c1","x":63,"y":1480},{"k":"c1","x":64,"y":1790},{"k":"c1","x":65,"y":2030},{"k":"c1","x":66,"y":2400},{"k":"c1","x":67,"y":2520},{"k":"c1","x":68,"y":2620},{"k":"c1","x":69.5,"y":2720},{"k":"c1","x":71,"y":2530},{"k":"c1","x":72.5,"y":2280},{"k":"c1","x":74,"y":2420},{"k":"c1","x":75,"y":2800},{"k":"c1","x":75.5,"y":3400},{"k":"c1","x":76,"y":4000},{"k":"c1","x":76.5,"y":4750},{"k":"c1","x":77,"y":6100},{"k":"c1","x":77.5,"y":7900},{"k":"c1","x":78,"y":9400},{"k":"c1","x":78.44,"y":10790},{"k":"c1","x":78.7,"y":9800},{"k":"c1","x":79,"y":8450},{"k":"c1","x":79.5,"y":5800},{"k":"c1","x":80,"y":3300},{"k":"c1","x":80.5,"y":1550},{"k":"c1","x":81,"y":560},{"k":"c1","x":81.5,"y":160},{"k":"c1","x":82.2,"y":35},{"k":"c1","x":85.46,"y":30}
]
},
"vconcat":[
{
"width":899,"height":543,
"layer":[
{"data":{"name":"amp"},"mark":{"type":"line","strokeWidth":1.6},
"encoding":{
"x":{"field":"x","type":"quantitative","scale":{"domain":[0,42],"nice":false,"zero":false},
"axis":{"values":[0,2,4,6,8,10,12,14,16,18,20,22,24,26,28,30,32,34,36,38,40,42],"tickCount":100,"format":"d","title":"Cycle","titleFontSize":19,"titleFontWeight":"normal","titleColor":"#222222","titleBaseline":"middle","titleY":41,"labelFontSize":14,"labelColor":"#333333","labelPadding":4,"tickSize":5,"tickColor":"#999999","domainColor":"#999999","domainWidth":2,"gridColor":"#d6d6d6","gridDash":[3,3],"gridWidth":1,"labelFlush":false,"labelOverlap":false}},
"y":{"field":"y","type":"quantitative","scale":{"domain":[-0.098,1.68],"nice":false,"zero":false},
"axis":{"values":[0,0.25,0.5,0.75,1,1.25,1.5],"tickCount":100,"format":".2f","title":"ΔRn","titleFontSize":18,"titleFontWeight":"normal","titleColor":"#222222","titleX":-78,"titleY":271,"titleBaseline":"middle","labelFontSize":18,"labelColor":"#333333","labelPadding":7,"tickSize":5,"tickColor":"#999999","domainColor":"#999999","domainWidth":2,"gridColor":"#d6d6d6","gridDash":[3,3],"gridWidth":1,"labelFlush":false,"labelOverlap":false}},
"color":{"field":"k","type":"nominal","legend":null,"scale":{"domain":["g1","g2","g3","g4","g5","g6","y1","y2","y3","y4","y5","r1","r2","r3","r4","r5","o6"],"range":["#2fe23c","#2fe23c","#2fe23c","#2fe23c","#2fe23c","#2fe23c","#c8e22c","#c8e22c","#c8e22c","#c8e22c","#c8e22c","#ee2a1c","#ee2a1c","#ee2a1c","#ee2a1c","#f0482a","#e8682c"]}}
}},
{"data":{"values":[{}]},"mark":{"type":"text","text":"Amplification Plot","font":"Liberation Sans","fontSize":20,"align":"center","baseline":"alphabetic","color":"#333333"},"encoding":{"x":{"datum":18.97},"y":{"datum":1.7258}}},
{"data":{"values":[{}]},"mark":{"type":"rule","color":"#000000","strokeWidth":2.3},"encoding":{"x":{"datum":-4.72},"x2":{"datum":42.2},"y":{"datum":1.788}}},
{"data":{"values":[{}]},"mark":{"type":"rule","color":"#000000","strokeWidth":2},"encoding":{"x":{"datum":-4.72},"y":{"datum":1.788},"y2":{"datum":-0.2895}}},
{"data":{"values":[{}]},"mark":{"type":"rule","color":"#000000","strokeWidth":3},"encoding":{"x":{"datum":-4.72},"x2":{"datum":42.2},"y":{"datum":-0.2873}}},
{"data":{"values":[{}]},"mark":{"type":"rect","fill":"#ffffff","stroke":"#000000","strokeWidth":1.3},"encoding":{"x":{"datum":-3.948},"x2":{"datum":-0.911},"y":{"datum":1.739},"y2":{"datum":1.552}}},
{"data":{"values":[{}]},"mark":{"type":"text","text":"A","font":"Liberation Serif","fontSize":32,"align":"center","baseline":"alphabetic","color":"#000000"},"encoding":{"x":{"datum":-2.41},"y":{"datum":1.606}}}
]
},
{
"bounds":"flush","spacing":0,
"hconcat":[
{"width":20,"height":640,"view":{"stroke":null},"data":{"values":[]},"mark":"point","encoding":{}},
{
"width":883,"height":640,"view":{"stroke":null},
"layer":[
{"data":{"name":"melt"},"mark":{"type":"line","strokeWidth":1.1},
"encoding":{
"x":{"field":"x","type":"quantitative","scale":{"domain":[60.23,85.46],"nice":false,"zero":false},
"axis":{"values":[61,62,63,64,65,66,67,68,69,70,71,72,73,74,75,76,77,78,79,80,81,82,83,84,85],"tickCount":100,"labelExpr":"datum.value % 5 === 0 ? format(datum.value, '.1f') : ''","labelFont":"Liberation Sans","labelFontSize":13,"labelColor":"#222222","labelPadding":13,"tickSize":8,"tickColor":"#777777","domainColor":"#333333","domainWidth":2,"gridColor":"#cccccc","gridWidth":1.4,"title":"Temperature (°C)","titleFont":"Liberation Sans","titleFontSize":14,"titleFontWeight":"normal","titleColor":"#111111","titleX":608,"titleY":70,"titleBaseline":"middle","labelOverlap":false,"labelFlush":false}},
"y":{"field":"y","type":"quantitative","scale":{"domain":[-16,11392],"nice":false,"zero":false},
"axis":{"values":[200,600,1000,1400,1800,2200,2600,3000,3400,3800,4200,4600,5000,5400,5800,6200,6600,7000,7400,7800,8200,8600,9000,9400,9800,10200,10600,11000],"tickCount":100,"labelExpr":"datum.value === 11000 ? '1000.0' : ((datum.value - 1000) % 2000 === 0 ? format(datum.value, '.1f') : '')","labelFont":"Liberation Sans","labelFontSize":13,"labelColor":"#222222","labelPadding":8,"tickSize":5,"tickColor":"#777777","domainColor":"#444444","domainWidth":2,"gridColor":"#cccccc","gridWidth":1.4,"title":"Derivative Reporter (−R')","titleFont":"Liberation Sans","titleFontSize":16,"titleFontWeight":"normal","titleColor":"#111111","titleX":-94,"titleY":300,"titleBaseline":"middle","labelOverlap":false,"labelFlush":false}},
"color":{"field":"k","type":"nominal","legend":null,"scale":{"domain":["bl3","bl1","bl2","L3","L13","L4","L5","L6","L9","L8","L7","L10","c3","c5","L12","c6","c4","L14","L1","L2","L11","c2","c1"],"range":["#ec7828","#a6e03a","#2fe070","#ee2b2b","#e8306a","#e8403a","#f07a1e","#e2d020","#84e83a","#35e03c","#a0e228","#22d86c","#e2349c","#e83aaa","#d43ad4","#9d35d8","#8a3ee8","#7a48f0","#2d5ee8","#3b82e4","#2bbde0","#35b2e8","#27a6de"]}}
}},
{"data":{"values":[{}]},"mark":{"type":"rule","color":"#2f6fdc","strokeWidth":1.2,"strokeDash":[4,3]},"encoding":{"x":{"datum":78.44}}},
{"data":{"values":[{}]},"mark":{"type":"text","text":"Tm: 78.44","font":"Liberation Sans","fontSize":13,"align":"center","baseline":"middle","color":"#2f6fdc"},"encoding":{"x":{"datum":78.44},"y":{"datum":-943}}},
{"data":{"values":[{}]},"mark":{"type":"rule","color":"#000000","strokeWidth":2.3},"encoding":{"x":{"datum":56.801},"y":{"datum":11428},"y2":{"datum":-1549}}},
{"data":{"values":[{}]},"mark":{"type":"rect","fill":"#ffffff","stroke":"#000000","strokeWidth":1.3},"encoding":{"x":{"datum":56.901},"x2":{"datum":58.759},"y":{"datum":11196},"y2":{"datum":10216}}},
{"data":{"values":[{}]},"mark":{"type":"text","text":"B","font":"Liberation Serif","fontSize":34,"align":"center","baseline":"alphabetic","color":"#000000"},"encoding":{"x":{"datum":57.83},"y":{"datum":10483}}}
]
}
]
}
]
}
